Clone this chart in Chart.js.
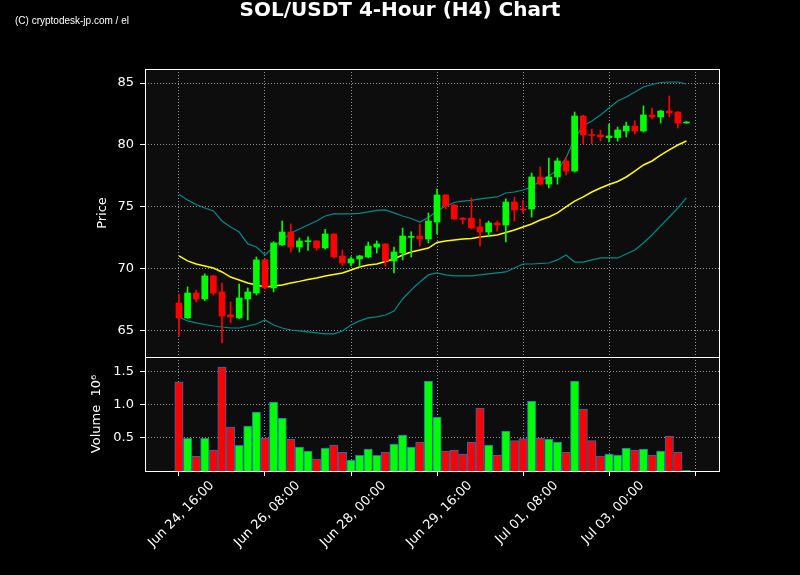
<!DOCTYPE html>
<html><head><meta charset="utf-8">
<script src="https://cdn.jsdelivr.net/npm/chart.js@4"></script>
<style>html,body{margin:0;padding:0;background:#000;}canvas{display:block;}</style>
</head><body>
<canvas id="c" width="800" height="575"></canvas>
<script>
const titleText = "SOL/USDT 4-Hour (H4) Chart";
const watermark = "(C) cryptodesk-jp.com / el";
const tickPositions = [0, 10, 20, 30, 40, 50, 60];
const tickLabels = ["Jun 24, 16:00", "Jun 26, 08:00", "Jun 28, 00:00", "Jun 29, 16:00", "Jul 01, 08:00", "Jul 03, 00:00", ""];
const priceTicks = [65, 70, 75, 80, 85];
const volumeTicks = [0.5, 1.0, 1.5];

const opens  = [67.26,66.05,68.06,67.58,69.44,68.15,66.30,66.05,67.58,68.06,70.73,68.47,71.94,72.98,71.77,72.20,72.26,71.70,72.82,71.05,
                70.48,70.81,70.97,71.77,72.02,70.65,71.29,72.55,72.66,72.42,73.79,75.97,75.16,74.10,74.10,73.39,72.98,73.71,73.55,75.40,
                74.84,74.84,77.42,76.85,77.42,78.71,77.90,82.34,80.85,80.81,80.60,80.60,81.13,81.53,81.13,82.42,82.26,82.74,82.66,81.77];
const highs  = [67.98,68.55,68.30,69.60,69.50,68.87,67.34,68.79,68.47,70.97,70.80,72.20,73.87,73.63,72.50,72.60,72.30,73.20,72.85,71.53,
                70.97,71.10,72.18,72.26,72.05,71.77,73.30,73.00,73.63,74.52,76.45,76.00,75.20,74.15,75.73,74.03,73.87,73.87,75.65,75.80,
                75.56,77.74,78.23,78.95,78.95,79.00,82.66,82.40,81.29,81.20,81.69,81.45,81.85,81.94,83.15,82.98,82.80,83.95,82.70,81.90];
const lows   = [64.60,66.00,67.34,67.44,67.90,64.03,65.65,66.00,65.89,67.90,68.40,68.15,71.90,71.37,71.37,71.50,71.50,71.60,70.90,70.24,
                70.24,70.16,70.90,71.29,70.24,69.68,70.73,70.97,71.85,72.10,72.82,74.84,74.00,73.63,73.23,71.85,72.66,73.06,72.18,73.87,
                74.52,74.19,76.77,76.53,76.85,77.58,77.82,80.08,80.08,80.32,80.24,80.32,80.65,80.89,81.05,82.10,81.77,82.26,81.37,81.75];
const closes = [66.05,68.06,67.58,69.44,68.06,66.20,66.13,67.66,68.15,70.73,68.47,72.10,72.98,71.77,72.26,72.26,71.70,72.82,70.97,70.48,
                70.81,71.05,71.85,72.02,70.65,71.37,72.66,72.60,72.42,73.87,75.97,75.08,74.03,74.00,73.31,72.98,73.71,73.55,75.40,74.76,
                74.76,77.42,76.85,77.42,78.71,77.90,82.34,80.81,80.77,80.65,80.73,81.21,81.53,81.13,82.42,82.26,82.74,82.58,81.77,81.85];
const volumes = [1.350,0.495,0.222,0.495,0.318,1.576,0.667,0.389,0.682,0.894,0.500,1.045,0.803,0.485,0.364,0.303,0.182,0.348,0.394,0.283,
                 0.167,0.237,0.333,0.237,0.288,0.409,0.545,0.364,0.439,1.364,0.818,0.303,0.318,0.258,0.439,0.955,0.394,0.242,0.606,0.460,
                 0.490,1.060,0.500,0.485,0.439,0.288,1.364,0.939,0.460,0.227,0.258,0.242,0.348,0.318,0.333,0.242,0.303,0.530,0.288,0.005];
const maValues = [71.05,70.65,70.40,70.24,70.08,69.76,69.35,69.11,68.87,68.71,68.55,68.63,68.71,68.87,69.00,69.15,69.27,69.44,69.56,69.68,
                  69.92,70.16,70.32,70.40,70.60,70.81,71.13,71.37,71.53,71.69,72.14,72.26,72.34,72.42,72.46,72.58,72.66,72.74,72.94,73.15,
                  73.39,73.63,73.95,74.19,74.52,75.00,75.48,75.81,76.21,76.53,76.81,77.06,77.42,77.90,78.39,78.71,79.19,79.60,80.00,80.32];
const upperBand = [76.01,75.56,75.20,74.92,74.68,73.87,73.39,72.98,72.02,71.77,71.13,71.77,72.34,72.90,73.23,73.55,73.87,74.27,74.44,74.44,
                   74.44,74.48,74.60,74.72,74.76,74.52,74.27,74.07,73.79,74.15,74.68,75.08,75.36,75.48,75.54,75.65,75.73,75.81,76.13,76.21,
                   76.37,76.61,77.10,77.50,77.98,78.95,80.56,81.53,81.94,82.42,82.98,83.55,83.87,84.27,84.68,84.88,85.04,85.08,85.08,84.92];
const lowerBand = [66.13,65.81,65.65,65.52,65.40,65.32,65.24,65.24,65.40,65.56,65.89,65.48,65.24,65.08,65.00,64.92,64.84,64.76,64.76,65.00,
                   65.48,65.81,66.05,66.13,66.29,66.61,67.58,68.31,68.95,69.52,69.68,69.52,69.44,69.44,69.44,69.52,69.60,69.68,69.76,70.08,
                   70.40,70.40,70.44,70.48,70.73,71.13,70.56,70.56,70.73,70.89,70.89,70.89,71.21,71.53,72.10,72.74,73.47,74.19,74.92,75.73];

const GREEN = '#00ff00', RED = '#ff0000';
const candleColors = closes.map((c, i) => c >= opens[i] ? GREEN : RED);
const pts = arr => arr.map((v, i) => ({x: i, y: v}));
const FONT = '"DejaVu Sans"';

const panesPlugin = {
  id: 'panes',
  beforeDraw(chart) {
    const ctx = chart.ctx, a = chart.chartArea;
    ctx.save();
    ctx.fillStyle = '#000';
    ctx.fillRect(0, 0, chart.width, chart.height);
    ctx.fillStyle = '#0d0d0d';
    ctx.fillRect(a.left, a.top, a.right - a.left, a.bottom - a.top);
    ctx.restore();
  },
  afterDraw(chart) {
    const ctx = chart.ctx, a = chart.chartArea;
    ctx.save();
    ctx.strokeStyle = '#ffffff';
    ctx.lineWidth = 1;
    for (const id of ['y', 'yv']) {
      const s = chart.scales[id];
      ctx.strokeRect(Math.round(a.left) + 0.5, Math.round(s.top) + 0.5,
                     Math.round(a.right - a.left) - 1, Math.round(s.bottom - s.top));
    }
    ctx.fillStyle = '#ffffff';
    ctx.textAlign = 'center';
    ctx.textBaseline = 'middle';
    ctx.font = 'bold 20px ' + FONT;
    ctx.fillText(titleText, 400, 11);
    ctx.textAlign = 'left';
    ctx.font = '10px "Liberation Sans"';
    ctx.fillText(watermark, 15, 21);
    ctx.restore();
  }
};

const gridCommon = {color: 'rgba(170,170,170,0.85)', tickColor: '#ffffff', tickLength: 5, tickWidth: 1, tickBorderDash: [], lineWidth: 1};
const borderCommon = {display: false, dash: [1, 2]};

new Chart(document.getElementById('c'), {
  type: 'bar',
  data: {
    datasets: [
      {type: 'line', label: 'upper', data: pts(upperBand), yAxisID: 'y', borderColor: '#008a8a', borderWidth: 1.2, pointRadius: 0, tension: 0, order: 3},
      {type: 'line', label: 'lower', data: pts(lowerBand), yAxisID: 'y', borderColor: '#008a8a', borderWidth: 1.2, pointRadius: 0, tension: 0, order: 3},
      {type: 'line', label: 'ma', data: pts(maValues), yAxisID: 'y', borderColor: '#ffff00', borderWidth: 1.5, pointRadius: 0, tension: 0, order: 3},
      {type: 'bar', label: 'wick', data: lows.map((l, i) => ({x: i, y: [l, highs[i]]})), yAxisID: 'y',
       backgroundColor: candleColors, barThickness: 1, grouped: false, order: 2},
      {type: 'bar', label: 'body', data: opens.map((o, i) => ({x: i, y: [o, closes[i]]})), yAxisID: 'y',
       backgroundColor: candleColors, barThickness: 6, minBarLength: 1, grouped: false, order: 1},
      {type: 'bar', label: 'volume', data: pts(volumes), yAxisID: 'yv',
       backgroundColor: candleColors, borderColor: '#2070b0', borderWidth: 1, borderSkipped: 'start',
       barThickness: 8.4, grouped: false, order: 1}
    ]
  },
  options: {
    responsive: false,
    animation: false,
    devicePixelRatio: 1,
    layout: {padding: {left: 91, right: 80, top: 69, bottom: 0}},
    plugins: {legend: {display: false}, tooltip: {enabled: false}, title: {display: false}},
    scales: {
      x: {
        type: 'linear', min: -3.95, max: 62.9, offset: false,
        grid: Object.assign({}, gridCommon, {offset: false}),
        border: borderCommon,
        afterBuildTicks: s => { s.ticks = tickPositions.map(v => ({value: v})); },
        afterFit: s => { s.height = 104; },
        ticks: {
          color: '#ffffff', font: {family: 'DejaVu Sans', size: 13},
          autoSkip: false, minRotation: 45, maxRotation: 45, padding: 2, labelOffset: 33,
          callback: v => { const k = tickPositions.indexOf(v); return k >= 0 ? tickLabels[k] : ''; }
        }
      },
      yv: {
        type: 'linear', position: 'left', stack: 'panes', stackWeight: 114,
        min: 0, max: 1.727,
        grid: gridCommon, border: borderCommon,
        afterBuildTicks: s => { s.ticks = volumeTicks.map(v => ({value: v})); },
        afterFit: s => { s.width = 54; },
        ticks: {color: '#ffffff', font: {family: 'DejaVu Sans', size: 13}, padding: 6, callback: v => v.toFixed(1)},
        title: {display: true, text: 'Volume  10\u2076', color: '#ffffff', font: {family: 'DejaVu Sans', size: 13}, padding: {top: -2, bottom: 0}}
      },
      y: {
        type: 'linear', position: 'left', stack: 'panes', stackWeight: 288,
        min: 62.9, max: 86.13,
        grid: gridCommon, border: borderCommon,
        afterBuildTicks: s => { s.ticks = priceTicks.map(v => ({value: v})); },
        afterFit: s => { s.width = 54; },
        ticks: {color: '#ffffff', font: {family: 'DejaVu Sans', size: 13}, padding: 6, callback: v => String(v)},
        title: {display: true, text: 'Price', color: '#ffffff', font: {family: 'DejaVu Sans', size: 13}, padding: {top: 4, bottom: 0}}
      }
    }
  },
  plugins: [panesPlugin]
});
</script>
</body></html>
